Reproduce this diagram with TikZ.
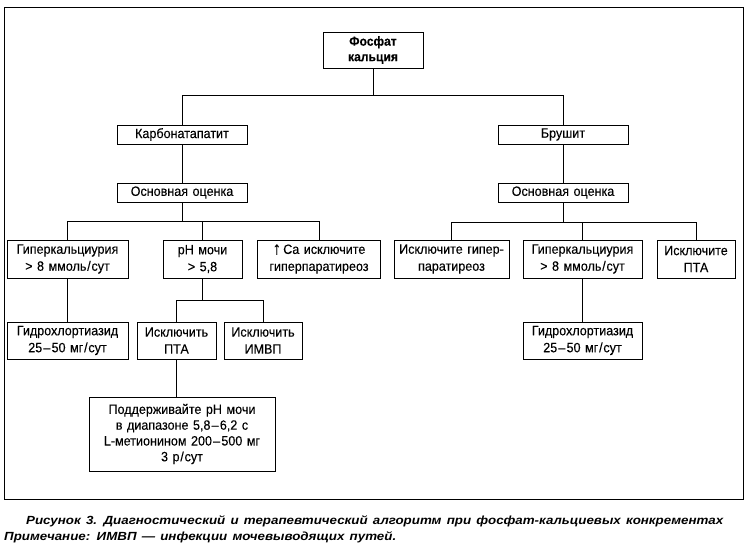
\documentclass[tikz,border=0pt]{standalone}
\usepackage{fontspec}
\setmainfont{Liberation Sans}
\newfontfamily\boxfont{Liberation Sans}[FakeStretch=0.93, FakeBold=0.12, WordSpace=1.3]
\newfontfamily\capfont{Liberation Sans}[FakeStretch=1.13, WordSpace=1.4]
\newcommand\dsh{\kern1.2pt–\kern1.2pt}
\newcommand\slsh{\kern0.8pt/\kern0.8pt}
\newcommand\uparr{{\fontsize{18}{18}\selectfont\raisebox{-0.5pt}{↑}}}
\begin{document}
\begin{tikzpicture}[x=1pt,y=-1pt,
  box/.style={draw, line width=1pt, inner sep=0pt, align=center, font=\boxfont\fontsize{13.5}{17}\selectfont},
  conn/.style={line width=1pt},
  captext/.style={inner sep=0pt, font=\capfont\fontsize{11.8}{14}\selectfont\bfseries\itshape}]
\useasboundingbox (0,0) rectangle (745,546);
\node[draw, line width=1pt, minimum width=739pt, minimum height=492pt, inner sep=0pt] (frame) at (373.5,253) {};
\node[box, minimum width=100pt, minimum height=36pt, font=\boxfont\fontsize{13}{15.5}\selectfont\bfseries] (top) at (373,50) {Фосфат\\кальция};
\node[box, minimum width=130pt, minimum height=19pt] (karb) at (182,134.5) {Карбонатапатит};
\node[box, minimum width=130pt, minimum height=19pt] (brush) at (563,134.5) {Брушит};
\node[box, minimum width=130pt, minimum height=19pt] (osn1) at (182,192.5) {Основная оценка};
\node[box, minimum width=130pt, minimum height=19pt] (osn2) at (563,192.5) {Основная оценка};
\node[box, minimum width=121pt, minimum height=38pt] (hyp1) at (67.5,259) {Гиперкальциурия\\> 8 ммоль\slsh сут};
\node[box, minimum width=79pt, minimum height=38pt] (ph) at (202.5,259) {pH мочи\\> 5,8};
\node[box, minimum width=123pt, minimum height=38pt] (ca) at (319,259) {\uparr\,Ca исключите\\гиперпаратиреоз};
\node[box, minimum width=121pt, minimum height=37pt] (hct1) at (67.5,340.5) {Гидрохлортиазид\\25\dsh 50 мг\slsh сут};
\node[box, minimum width=79pt, minimum height=37pt] (pta1) at (176.5,340.5) {Исключить\\ПТА};
\node[box, minimum width=78pt, minimum height=37pt] (imvp) at (263,340.5) {Исключить\\ИМВП};
\node[box, minimum width=186pt, minimum height=74pt, font=\boxfont\fontsize{13.5}{15.8}\selectfont] (sup) at (182,434) {Поддерживайте pH мочи\\в диапазоне 5,8\dsh 6,2 с\\L-метионином 200\dsh 500 мг\\3 р\slsh сут};
\node[box, minimum width=115pt, minimum height=38pt] (exh) at (451.5,259) {Исключите гипер-\\паратиреоз};
\node[box, minimum width=119pt, minimum height=38pt] (hyp2) at (582.5,259) {Гиперкальциурия\\> 8 ммоль\slsh сут};
\node[box, minimum width=78pt, minimum height=38pt] (pta2) at (696,259) {Исключите\\ПТА};
\node[box, minimum width=119pt, minimum height=37pt] (hct2) at (582.5,340.5) {Гидрохлортиазид\\25\dsh 50 мг\slsh сут};
\draw[conn] (top.south) -- ++(0,27) -| (karb.north);
\draw[conn] (top.south) -- ++(0,27) -| (brush.north);
\draw[conn] (karb) -- (osn1);
\draw[conn] (brush) -- (osn2);
\draw[conn] (osn1.south) -- ++(0,19) -| (hyp1.north);
\draw[conn] (osn1.south) -- ++(0,19) -| (ph.north);
\draw[conn] (osn1.south) -- ++(0,19) -| (ca.north);
\draw[conn] (osn2.south) -- ++(0,20) -| (exh.north);
\draw[conn] (osn2.south) -- ++(0,20) -| (hyp2.north);
\draw[conn] (osn2.south) -- ++(0,20) -| (pta2.north);
\draw[conn] (hyp1) -- (hct1);
\draw[conn] (hyp2) -- (hct2);
\draw[conn] (ph.south) -- ++(0,22) -| (pta1.north);
\draw[conn] (ph.south) -- ++(0,22) -| (imvp.north);
\draw[conn] (pta1.south) -- (pta1.south |- sup.north);
\node[captext, anchor=base west] (cap1) at (26,524) {Рисунок 3. Диагностический и терапевтический алгоритм при фосфат-кальциевых конкрементах};
\node[captext, anchor=base west] (cap2) at (4,540) {Примечание: ИМВП — инфекции мочевыводящих путей.};
\end{tikzpicture}
\end{document}
